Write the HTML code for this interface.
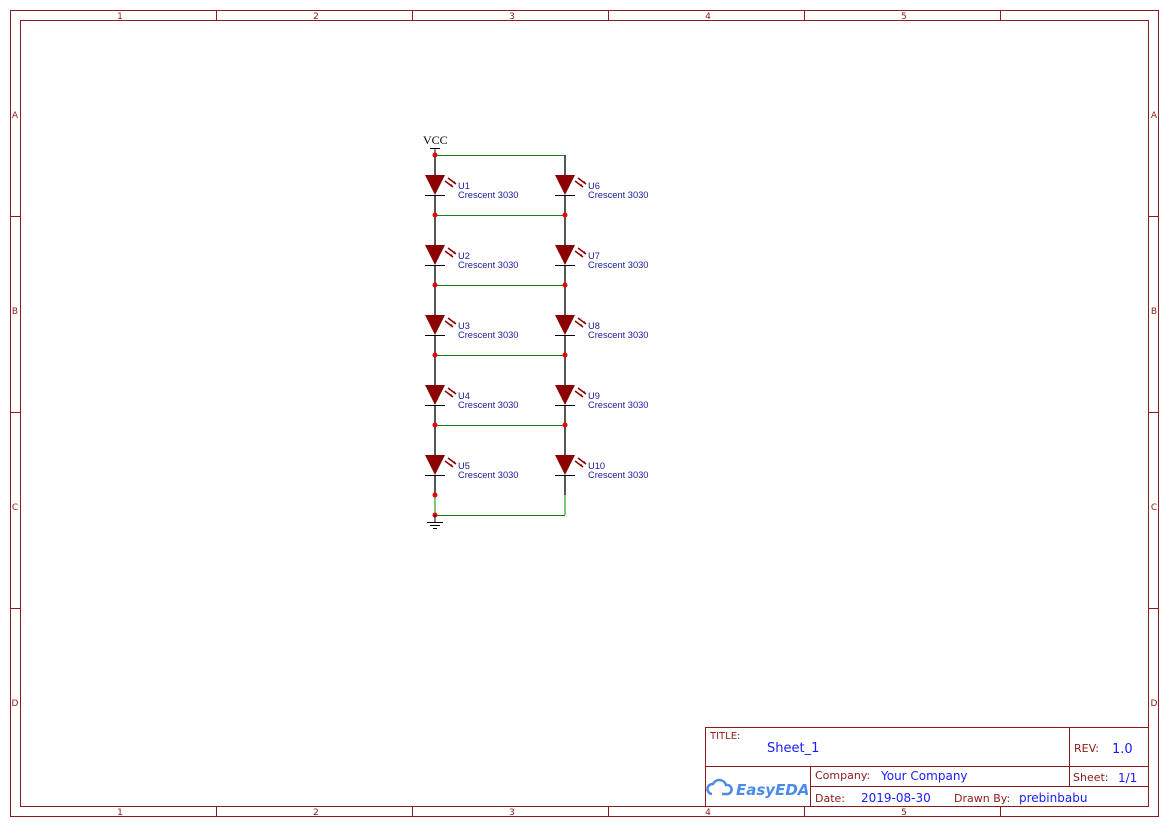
<!DOCTYPE html>
<html><head><style>body{margin:0;background:#fff}</style></head><body>
<svg width="1169" height="827" xmlns="http://www.w3.org/2000/svg" font-family="DejaVu Sans, Liberation Sans, sans-serif">
<rect x="0" y="0" width="1169" height="827" fill="#fff"/>
<g stroke="#8b1a1a" fill="none" stroke-width="1">
<rect x="10.5" y="10.5" width="1148" height="806"/>
<rect x="20.5" y="20.5" width="1128" height="786"/>
<path d="M216.5 10v10M412.5 10v10M608.5 10v10M804.5 10v10M1000.5 10v10M216.5 807v10M412.5 807v10M608.5 807v10M804.5 807v10M1000.5 807v10M10 216.5h10M10 412.5h10M10 608.5h10M1149 216.5h10M1149 412.5h10M1149 608.5h10"/>
<rect x="705.5" y="727.5" width="443" height="79"/>
<path d="M705 766.5h444M810 786.5h339M810.5 766v41M1069.5 727v60"/>
</g>
<g fill="#8b1a1a" font-size="9" text-anchor="middle">
<text x="120" y="19">1</text><text x="316" y="19">2</text><text x="512" y="19">3</text><text x="708" y="19">4</text><text x="904" y="19">5</text>
<text x="120" y="815">1</text><text x="316" y="815">2</text><text x="512" y="815">3</text><text x="708" y="815">4</text><text x="904" y="815">5</text>
<text x="15" y="118">A</text><text x="15" y="314">B</text><text x="15" y="510">C</text><text x="15" y="706">D</text>
<text x="1154" y="118">A</text><text x="1154" y="314">B</text><text x="1154" y="510">C</text><text x="1154" y="706">D</text>
</g>
<g font-size="11" fill="#8b1a1a">
<text x="710" y="739" font-size="10">TITLE:</text>
<text x="1074" y="752">REV:</text>
<text x="815" y="779">Company:</text>
<text x="1073" y="781">Sheet:</text>
<text x="815" y="802">Date:</text>
<text x="954" y="802">Drawn By:</text>
</g>
<g font-size="13" fill="#1a1aff">
<text x="767" y="752">Sheet_1</text>
<text x="1112" y="753">1.0</text>
<text x="881" y="780" font-size="12">Your Company</text>
<text x="1118" y="782" font-size="12">1/1</text>
<text x="861" y="802" font-size="12">2019-08-30</text>
<text x="1019" y="802" font-size="12">prebinbabu</text>
</g>
<g>
<path d="M712 794a5 5 0 0 1 1-10a7 7 0 0 1 13 1a4 4 0 0 1 2 9h-6" stroke="#4a8ae8" stroke-width="2.5" fill="none"/>
<text x="736" y="795" font-size="15" font-style="italic" font-weight="bold" fill="#4a8ae8">EasyEDA</text>
</g>
<text x="423" y="144" font-family="Liberation Serif, serif" font-size="12">VCC</text>
<path d="M430 148.5h10M435 148v7" stroke="#000"/>
<g stroke="#555" stroke-width="2">
<path d="M435 155v20M435 195v20M435 215v30M435 265v20M435 285v30M435 335v20M435 355v30M435 405v20M435 425v30M435 475v20"/>
<path d="M565 155v20M565 195v20M565 215v30M565 265v20M565 285v30M565 335v20M565 355v30M565 405v20M565 425v30M565 475v20"/>
</g>
<g stroke="#7cc87c" stroke-width="2"><path d="M435 495v20M565 495v20"/></g>
<g stroke="#1a7a1a" stroke-width="1"><path d="M435 155.5h130M435 215.5h130M435 285.5h130M435 355.5h130M435 425.5h130M435 515.5h130"/></g>
<g fill="#e00">
<circle cx="435" cy="155" r="2.5"/><circle cx="435" cy="215" r="2.5"/><circle cx="565" cy="215" r="2.5"/>
<circle cx="435" cy="285" r="2.5"/><circle cx="565" cy="285" r="2.5"/><circle cx="435" cy="355" r="2.5"/><circle cx="565" cy="355" r="2.5"/>
<circle cx="435" cy="425" r="2.5"/><circle cx="565" cy="425" r="2.5"/><circle cx="435" cy="495" r="2.5"/><circle cx="435" cy="515" r="2.5"/>
</g>
<path d="M435 515v7M427 522.5h16M430 525.5h10M433 528.5h4" stroke="#000"/>
<defs>
<g id="led">
<path d="M-10 0h20l-10 20z" fill="#8b0000"/>
<path d="M-10 20.5h20" stroke="#000"/>
<path d="M10 6l8 6M13 3l8 6" stroke="#8b0000" stroke-width="1.5"/>
<path d="M18 12l-3-1l1.5-2zM21 9l-3-1l1.5-2z" fill="#8b0000"/>
</g>
</defs>
<g font-family="Liberation Sans, sans-serif" font-size="9.3" fill="#1a1a9a">
<use href="#led" x="435" y="175"/><use href="#led" x="565" y="175"/>
<use href="#led" x="435" y="245"/><use href="#led" x="565" y="245"/>
<use href="#led" x="435" y="315"/><use href="#led" x="565" y="315"/>
<use href="#led" x="435" y="385"/><use href="#led" x="565" y="385"/>
<use href="#led" x="435" y="455"/><use href="#led" x="565" y="455"/>
<text x="458" y="189">U1</text><text x="458" y="198">Crescent 3030</text>
<text x="588" y="189">U6</text><text x="588" y="198">Crescent 3030</text>
<text x="458" y="259">U2</text><text x="458" y="268">Crescent 3030</text>
<text x="588" y="259">U7</text><text x="588" y="268">Crescent 3030</text>
<text x="458" y="329">U3</text><text x="458" y="338">Crescent 3030</text>
<text x="588" y="329">U8</text><text x="588" y="338">Crescent 3030</text>
<text x="458" y="399">U4</text><text x="458" y="408">Crescent 3030</text>
<text x="588" y="399">U9</text><text x="588" y="408">Crescent 3030</text>
<text x="458" y="469">U5</text><text x="458" y="478">Crescent 3030</text>
<text x="588" y="469">U10</text><text x="588" y="478">Crescent 3030</text>
</g>
</svg>
</body></html>
